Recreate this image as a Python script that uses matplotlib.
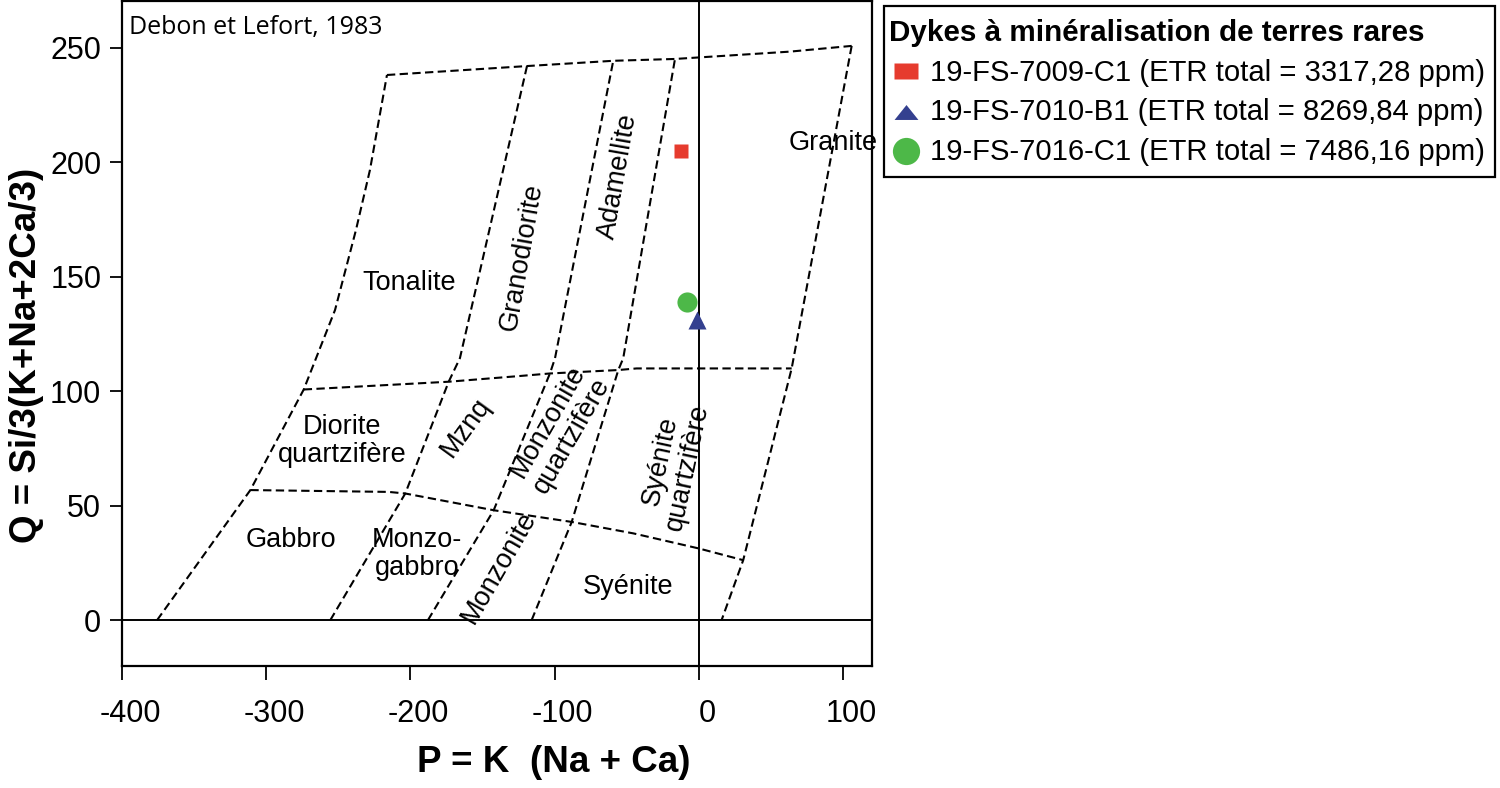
import matplotlib
matplotlib.use("Agg")
import matplotlib.pyplot as plt
import matplotlib.transforms as mtransforms
from matplotlib.lines import Line2D
from matplotlib.patches import Rectangle

plt.rcParams["font.family"] = ["Liberation Sans", "DejaVu Sans"]
plt.rcParams["axes.unicode_minus"] = False

# ---------------------------------------------------------------------------
# Data
# ---------------------------------------------------------------------------

# samples (P, Q)
sample_names = ["19-FS-7009-C1", "19-FS-7010-B1", "19-FS-7016-C1"]
etr_total    = ["3317,28", "8269,84", "7486,16"]
p_vals       = [-12.7, -1.6, -8.5]
q_vals       = [205.0, 131.0, 139.0]

# Debon & Lefort (1983) field boundaries
left_p  = [-375.7, -311.0, -274.0, -252.3, -237.8, -228.1, -216.3]
left_q  = [0.0, 56.8, 100.7, 135.4, 170.3, 196.5, 238.0]
top_p   = [-216.3, -119.2, -59.4, -16.6, 63.1, 105.9]
top_q   = [238.0, 241.9, 244.2, 245.0, 248.2, 250.7]
right_p = [105.9, 64.3, 30.7, 15.7]
right_q = [250.7, 109.9, 26.2, 0.0]
ton_p   = [-255.6, -203.6, -173.5, -165.7, -119.2]
ton_q   = [0.0, 55.3, 104.1, 114.4, 241.9]
gdr_p   = [-187.9, -142.3, -103.3, -99.8, -59.4]
gdr_q   = [0.0, 48.0, 107.7, 114.3, 244.2]
ada_p   = [-116.0, -88.2, -55.9, -52.5, -16.6]
ada_q   = [0.0, 42.9, 109.2, 114.3, 245.0]
q100_p  = [-274.0, -173.5, -124.1, -103.3, -55.9, -43.2, 64.3]
q100_q  = [100.7, 104.1, 106.6, 107.7, 109.2, 109.9, 109.9]
q50_p   = [-311.0, -215.1, -203.6, -142.3, -88.2, -45.5, 0.0, 30.7]
q50_q   = [56.8, 56.0, 55.3, 48.0, 42.9, 37.9, 31.3, 26.2]

boundaries = [(left_p, left_q), (top_p, top_q), (right_p, right_q),
              (ton_p, ton_q), (gdr_p, gdr_q), (ada_p, ada_q),
              (q100_p, q100_q), (q50_p, q50_q)]

# field names: (text, P, Q, rotation)
field_labels = [
    ("Tonalite", -201.0, 147.2, 0),
    ("Granodiorite", -122.9, 158.6, 80),
    ("Adamellite", -55.9, 193.6, 80),
    ("Granite", 92.9, 208.3, 0),
    ("Diorite\nquartzifère", -247.5, 78.2, 0),
    ("Mznq", -161.5, 84.0, 54),
    ("Monzonite\nquartzifère", -96.4, 83.8, 60),
    ("Syénite\nquartzifère", -17.3, 68.1, 78),
    ("Gabbro", -282.6, 34.9, 0),
    ("Monzo-\ngabbro", -195.5, 28.8, 0),
    ("Monzonite", -138.6, 23.1, 60),
    ("Syénite", -49.0, 14.5, 0),
]

x_ticks = [-400, -300, -200, -100, 0, 100]
y_ticks = [0, 50, 100, 150, 200, 250]

# ---------------------------------------------------------------------------
# Styles
# ---------------------------------------------------------------------------
COLORS  = ["#E63B2E", "#34408F", "#4DB848"]
MARKERS = ["s", "^", "o"]
MS_PLOT = [10, 12.5, 14.5]

# legend markers are a bit stretched sideways in the original
LEG_RECT = [(-1.2, -0.83), (1.2, -0.83), (1.2, 0.83), (-1.2, 0.83), (-1.2, -0.83)]
LEG_TRI  = [(-1.2, -0.75), (1.2, -0.75), (0.0, 0.75), (-1.2, -0.75)]
LEG_MARKERS = [LEG_RECT, LEG_TRI, "o"]
MS_LEG      = [17.3, 17.2, 19.6]

W, H = 1500, 788
fig = plt.figure(figsize=(W / 100, H / 100), dpi=100)
ax = fig.add_axes([122 / W, 122 / H, 750 / W, 665 / H])

for xs, ys in boundaries:
    ax.plot(xs, ys, color="black", lw=1.5, ls="--", dashes=(4.0, 2.1))

ax.axhline(0, color="black", lw=1.4)
ax.axvline(0, color="black", lw=1.4)

for txt, px, qy, rot in field_labels:
    ax.text(px, qy, txt, ha="center", va="center", rotation=rot,
            rotation_mode="anchor", fontsize=19.5, linespacing=1.12)

for p, q, c, m, ms in zip(p_vals, q_vals, COLORS, MARKERS, MS_PLOT):
    ax.plot([p], [q], ls="none", marker=m, ms=ms, color=c, mec="none")

ax.text(0.009, 0.96, "Debon et Lefort, 1983", transform=ax.transAxes,
        ha="left", va="center", fontsize=18, family=["Open Sans", "DejaVu Sans"])

ax.set_xlim(-400, 120)
ax.set_ylim(-20, 270.3)
ax.set_xticks(x_ticks)
ax.set_yticks(y_ticks)
ax.tick_params(axis="x", length=10, width=1.3, pad=14, labelsize=22)
ax.tick_params(axis="y", length=9, width=1.3, pad=6, labelsize=22)
shift = mtransforms.ScaledTranslation(8 / 100, 0, fig.dpi_scale_trans)
for lab in ax.get_xticklabels():
    lab.set_transform(lab.get_transform() + shift)
for s in ax.spines.values():
    s.set_linewidth(1.6)

fig.text(554 / W, 1 - 762 / H, "P = K  (Na + Ca)", ha="center", va="center",
         fontsize=26.5, fontweight="bold")
fig.text(27 / W, 1 - 355 / H, "Q = Si/3(K+Na+2Ca/3)", ha="center",
         va="center", rotation=90, fontsize=26.5, fontweight="bold")

# legend box
fig.add_artist(Rectangle((884 / W, 1 - 177 / H), 611 / W, 171 / H,
                         transform=fig.transFigure, fill=False,
                         edgecolor="black", lw=1.6))
fig.text(889 / W, 1 - 33 / H, "Dykes à minéralisation de terres rares",
         ha="left", va="center", fontsize=21.3, fontweight="bold")
marker_y = [71, 112, 151]
text_y   = [73, 112, 152]
for name, etr, c, m, ms, my, ty in zip(sample_names, etr_total, COLORS,
                                       LEG_MARKERS, MS_LEG, marker_y, text_y):
    fig.add_artist(Line2D([905.5 / W], [1 - my / H], transform=fig.transFigure,
                          ls="none", marker=m, ms=ms, color=c, mec="none"))
    fig.text(930 / W, 1 - ty / H, f"{name} (ETR total = {etr} ppm)",
             ha="left", va="center", fontsize=21.1)

fig.savefig("out.png", dpi=100)
